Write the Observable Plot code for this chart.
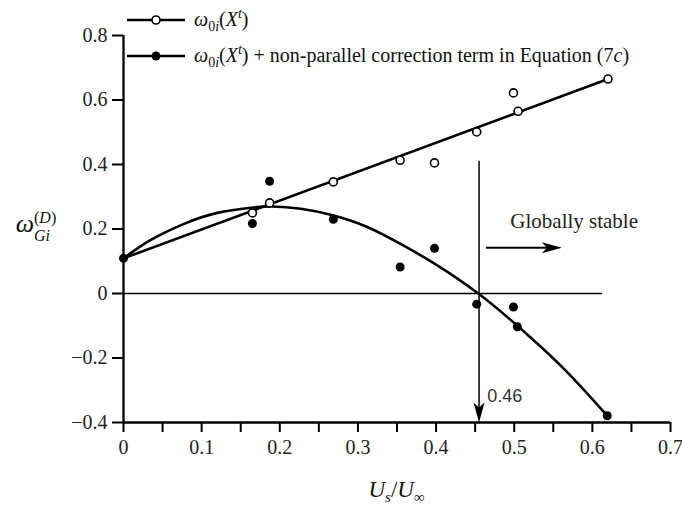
<!DOCTYPE html>
<html><head><meta charset="utf-8">
<script src="https://cdn.jsdelivr.net/npm/d3@7"></script>
<script src="https://cdn.jsdelivr.net/npm/@observablehq/plot@0.6"></script>
<style>body{margin:0;background:#fff}</style>
</head><body><div id="chart"></div>
<script>
// ---- data ----
const openX = [0.165, 0.187, 0.2685, 0.354, 0.398, 0.452, 0.499, 0.505, 0.620];
const openY = [0.250, 0.281, 0.346, 0.413, 0.405, 0.501, 0.622, 0.565, 0.665];
const filledX = [0, 0.165, 0.187, 0.2685, 0.354, 0.398, 0.452, 0.499, 0.504, 0.619];
const filledY = [0.109, 0.217, 0.348, 0.230, 0.082, 0.140, -0.033, -0.042, -0.103, -0.379];
const lineFitX = [0, 0.62];
const lineFitY = [0.109, 0.665];
const curveFitX = [0, 0.035, 0.0775, 0.12, 0.163, 0.19, 0.227, 0.269, 0.312, 0.355, 0.397, 0.454, 0.504, 0.563, 0.619];
const curveFitY = [0.109, 0.166, 0.216, 0.250, 0.266, 0.270, 0.263, 0.242, 0.206, 0.153, 0.094, 0, -0.100, -0.232, -0.379];
const xTicks = [0, 0.05, 0.1, 0.15, 0.2, 0.25, 0.3, 0.35, 0.4, 0.45, 0.5, 0.55, 0.6, 0.65, 0.7];
const xTickLabels = ["0", "", "0.1", "", "0.2", "", "0.3", "", "0.4", "", "0.5", "", "0.6", "", "0.7"];
const yTicks = [-0.4, -0.2, 0, 0.2, 0.4, 0.6, 0.8];
const yTickLabels = ["\u22120.4", "\u22120.2", "0", "0.2", "0.4", "0.6", "0.8"];
const criticalX = 0.455;         // vertical marker
const criticalLabel = "0.46";
const criticalTop = 0.41;
const zeroLineEnd = 0.613;
const stableArrowX = [0.4646, 0.561];
const stableArrowY = 0.142;
const stableText = "Globally stable";
const stableTextPos = [0.495, 0.202];
const critTextPos = [0.4655, -0.335];

// ---- build ----
const serif = "'Liberation Serif','Times New Roman',Times,serif";
const sans = "'Liberation Sans',Arial,Helvetica,sans-serif";
const openPts = openX.map((x, i) => ({x, y: openY[i]}));
const filledPts = filledX.map((x, i) => ({x, y: filledY[i]}));
const linePts = lineFitX.map((x, i) => ({x, y: lineFitY[i]}));
const curvePts = curveFitX.map((x, i) => ({x, y: curveFitY[i]}));

const arrowHead = {
  draw(ctx) {
    ctx.moveTo(0, 0);
    ctx.lineTo(-20, -5.5);
    ctx.lineTo(-15, 0);
    ctx.lineTo(-20, 5.5);
    ctx.closePath();
  }
};

const plot = Plot.plot({
  width: 682, height: 506,
  marginLeft: 123, marginRight: 12, marginTop: 35, marginBottom: 84,
  x: {domain: [0, 0.7]},
  y: {domain: [-0.4, 0.8]},
  style: {fontFamily: serif, background: "white", overflow: "visible"},
  marks: [
    Plot.axisX({ticks: xTicks, tickSize: 10, tickPadding: 7, strokeWidth: 2, stroke: "black",
      fill: "#222", fontSize: 20, fontFamily: serif, label: null,
      tickFormat: d => xTickLabels[Math.round(d * 20)]}),
    Plot.axisY({ticks: yTicks, tickSize: 11, tickPadding: 5, strokeWidth: 2, stroke: "black",
      fill: "#222", fontSize: 20, fontFamily: serif, label: null,
      tickFormat: d => yTickLabels[Math.round((d + 0.4) * 5)]}),
    Plot.ruleY([-0.4], {x1: 0, x2: 0.7, strokeWidth: 2.3}),
    Plot.ruleX([0], {y1: -0.4, y2: 0.8, strokeWidth: 2.3}),
    Plot.ruleY([0], {x1: 0, x2: zeroLineEnd, strokeWidth: 1.3}),
    Plot.ruleX([criticalX], {y1: criticalTop, y2: -0.38, strokeWidth: 1.5}),
    Plot.dot([criticalX], {x: d => d, y: -0.4, symbol: arrowHead, r: 1, rotate: 90, fill: "black", stroke: "none"}),
    Plot.ruleY([stableArrowY], {x1: stableArrowX[0], x2: stableArrowX[1] - 0.01, strokeWidth: 2}),
    Plot.dot([stableArrowX[1]], {x: d => d, y: stableArrowY, symbol: arrowHead, r: 1, rotate: 0, fill: "black", stroke: "none"}),
    Plot.line(linePts, {x: "x", y: "y", strokeWidth: 2.6}),
    Plot.line(curvePts, {x: "x", y: "y", curve: "natural", strokeWidth: 2.6}),
    Plot.dot(openPts, {x: "x", y: "y", r: 4, fill: "white", stroke: "black", strokeWidth: 1.6}),
    Plot.dot(filledPts, {x: "x", y: "y", r: 4.5, fill: "black", stroke: "none"}),
    Plot.text([stableText], {x: stableTextPos[0], y: stableTextPos[1], text: d => d, textAnchor: "start",
      lineAnchor: "bottom", fontSize: 21, fontFamily: serif, fill: "#222"}),
    Plot.text([criticalLabel], {x: critTextPos[0], y: critTextPos[1], text: d => d, textAnchor: "start",
      lineAnchor: "bottom", fontSize: 18, fontFamily: sans, fill: "#333"})
  ]
});
document.getElementById("chart").append(plot);

// ---- rich text (sub/superscripts) and legend ----
const svg = d3.select(plot);
const xs = plot.scale("x"), ys = plot.scale("y");

function rich(x, y, parts, size, anchor = "start") {
  const t = svg.append("text").attr("x", x).attr("y", y)
    .attr("font-family", serif).attr("font-size", size)
    .attr("text-anchor", anchor).attr("fill", "#111");
  let cur = 0;
  for (const p of parts) {
    const s = t.append("tspan").text(p.t);
    if (p.i) s.attr("font-style", "italic");
    if (p.fs) s.attr("font-size", p.fs);
    const shift = p.shift || 0;
    if (shift !== cur) { s.attr("dy", shift - cur); cur = shift; }
  }
  return t;
}

// y-axis label  ω_Gi^(D)
const yl = ys.apply(0.2);
svg.append("text").attr("x", 34).attr("y", yl + 3).attr("text-anchor", "end")
  .attr("font-family", serif).attr("font-size", 26).attr("font-style", "italic").attr("fill", "#111").text("ω");
rich(34, yl - 6, [{t: "(", fs: 16}, {t: "D", i: true, fs: 16}, {t: ")", fs: 16}], 16);
rich(34, yl + 12, [{t: "Gi", i: true, fs: 16}], 16);

// x-axis label  U_s/U_∞
rich((xs.apply(0) + xs.apply(0.7)) / 2, 497, [
  {t: "U", i: true}, {t: "s", i: true, fs: 15, shift: 5}, {t: "/", shift: 0},
  {t: "U", i: true}, {t: "∞", fs: 15, shift: 5}
], 23, "middle");

// legend
const legRows = [20, 56];
const legX1 = 127, legX2 = 185, legCx = 156, legTx = 194;
legRows.forEach((ly, k) => {
  svg.append("line").attr("x1", legX1).attr("x2", legX2).attr("y1", ly).attr("y2", ly)
    .attr("stroke", "black").attr("stroke-width", 2.6);
  svg.append("circle").attr("cx", legCx).attr("cy", ly).attr("r", k ? 4.5 : 4)
    .attr("fill", k ? "black" : "white").attr("stroke", k ? "none" : "black").attr("stroke-width", 1.6);
  const parts = [
    {t: "ω", i: true}, {t: "0", fs: 14, shift: 5}, {t: "i", i: true, fs: 14, shift: 5},
    {t: "(", shift: 0}, {t: "X", i: true}, {t: "t", i: true, fs: 14, shift: -8}, {t: ")", shift: 0}
  ];
  if (k) parts.push({t: " + non-parallel correction term in Equation (7"}, {t: "c", i: true}, {t: ")"});
  rich(legTx, ly + 6, parts, 20);
});
</script>
</body></html>
